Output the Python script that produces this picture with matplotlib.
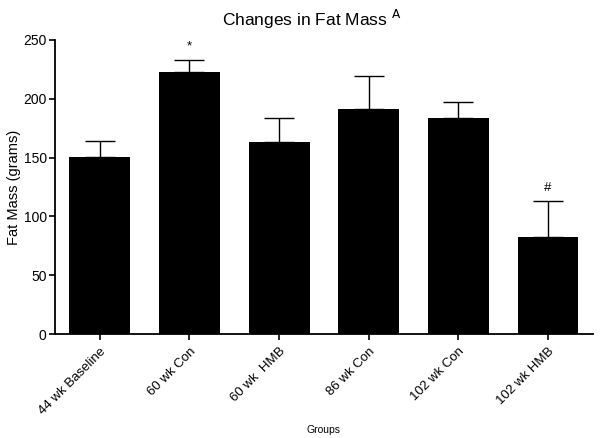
import numpy as np
import matplotlib.pyplot as plt

plt.rcParams['font.family'] = ['Liberation Sans', 'DejaVu Sans']

# data
groups = ['44 wk Baseline', '60 wk Con', '60 wk  HMB', '86 wk Con', '102 wk Con', '102 wk HMB']
fat_mass = [150.5, 222.5, 163.5, 191.5, 183.5, 82.5]
sem = [13.5, 10.5, 20.5, 27.5, 14.0, 30.5]
marks = ['', '*', '', '', '', '#']

x = np.arange(len(groups))

fig = plt.figure(figsize=(6, 4.38), dpi=100)
ax = fig.add_axes([0.0917, 0.2374, 0.8963, 0.6713])

ax.bar(x, fat_mass, width=0.68, color='black', zorder=2)
ax.errorbar(x, fat_mass, yerr=[np.zeros(len(sem)), sem], fmt='none',
            ecolor='black', elinewidth=1.0, capsize=11, capthick=1.0, zorder=1)

for xi, v, e, m in zip(x, fat_mass, sem, marks):
    if m:
        ax.text(xi, v + e + 6, m, ha='center', va='bottom', fontsize=9.5)

ax.set_xlim(-0.5, 5.5)
ax.set_ylim(0, 250)
ax.set_yticks([0, 50, 100, 150, 200, 250])
ax.set_xticks(x)
ax.set_xticklabels(groups, rotation=45, ha='right', rotation_mode='anchor', fontsize=9.5)
ax.tick_params(axis='y', labelsize=10, length=4, width=1.2, pad=2)
ax.tick_params(axis='x', length=4, width=1.2, pad=4)

for s in ['top', 'right']:
    ax.spines[s].set_visible(False)
for s in ['left', 'bottom']:
    ax.spines[s].set_linewidth(1.3)

ax.set_ylabel('Fat Mass (grams)', fontsize=10.5)
ax.yaxis.set_label_coords(-0.063, 0.5)
ax.set_xlabel('Groups', fontsize=7.5)
ax.xaxis.set_label_coords(0.5, -0.31)
fig.text(0.52, 0.955, r'Changes in Fat Mass $^{\mathrm{A}}$', ha='center', va='center', fontsize=12.5)

fig.savefig('out.png', dpi=100)
